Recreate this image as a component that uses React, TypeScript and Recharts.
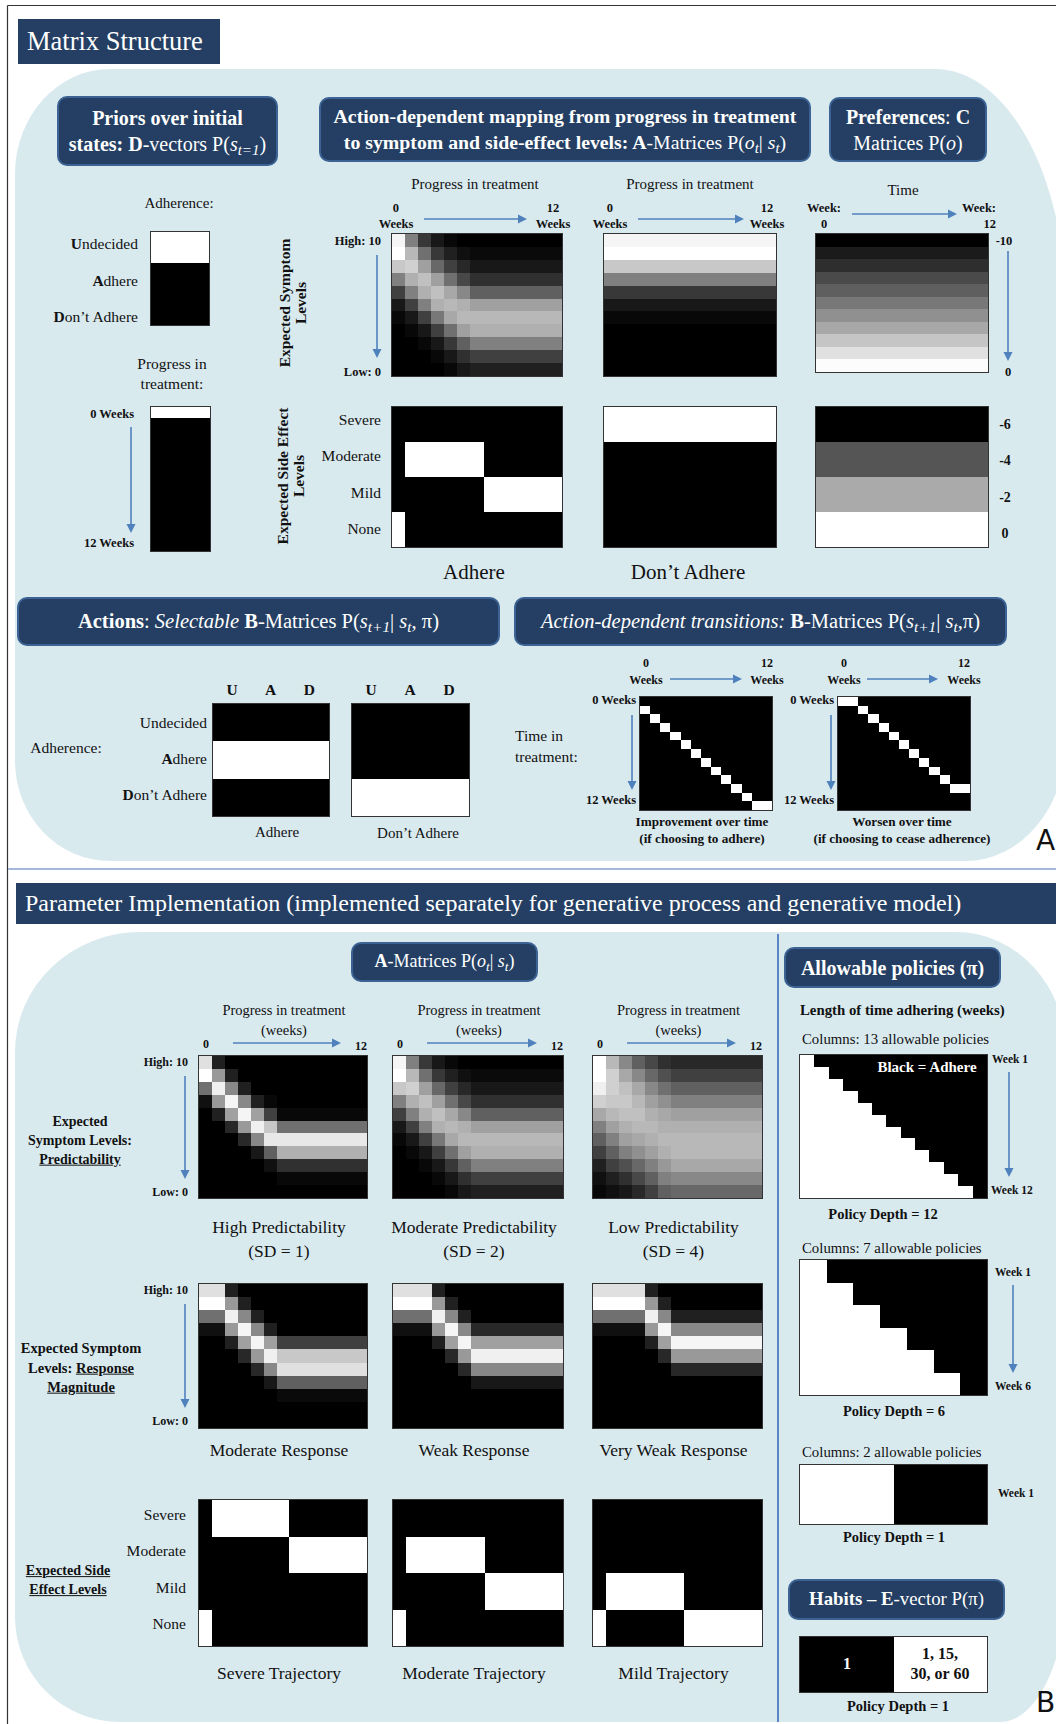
import React from 'react'
import { ScatterChart, Scatter, XAxis, YAxis } from 'recharts'

const SERIF = "'Liberation Serif', 'DejaVu Serif', serif"
const NAVY = '#243f63'
const NAVY_EDGE = '#3c6394'
const PALE = '#d9eaef'
const ARROW = '#4f81bd'

// 13 columns = weeks 0..12
const WEEKS = ['0', '1', '2', '3', '4', '5', '6', '7', '8', '9', '10', '11', '12']

// grey levels (hex), rows = symptom level 10 (top) .. 0 (bottom)
const MOD_PRED = [
  'f5 80 38 18 08 00 00 00 00 00 00 00 00',
  'ff b8 70 38 20 10 0a 0a 0a 0a 0a 0a 0a',
  'c8 d0 a0 68 40 28 18 18 18 18 18 18 18',
  '80 b0 c0 a0 70 48 30 30 30 30 30 30 30',
  '40 80 b0 c0 a8 88 60 60 60 60 60 60 60',
  '18 40 80 b0 b8 b0 a0 a0 a0 a0 a0 a0 a0',
  '08 18 40 78 a8 b8 b8 b8 b8 b8 b8 b8 b8',
  '00 08 18 40 70 a0 b0 b0 b0 b0 b0 b0 b0',
  '00 00 08 18 38 60 80 80 80 80 80 80 80',
  '00 00 00 08 18 30 40 40 40 40 40 40 40',
  '00 00 00 00 08 18 20 20 20 20 20 20 20',
]
const HIGH_PRED = [
  'e0 20 00 00 00 00 00 00 00 00 00 00 00',
  'ff 99 20 00 00 00 00 00 00 00 00 00 00',
  '70 f0 88 20 00 00 00 00 00 00 00 00 00',
  '10 99 f5 88 20 08 00 00 00 00 00 00 00',
  '00 20 a0 f5 a0 40 08 08 08 08 08 08 08',
  '00 00 28 99 f0 c8 70 70 70 70 70 70 70',
  '00 00 00 28 88 e8 e8 e8 e8 e8 e8 e8 e8',
  '00 00 00 00 18 60 b0 b0 b0 b0 b0 b0 b0',
  '00 00 00 00 00 10 30 30 30 30 30 30 30',
  '00 00 00 00 00 00 08 08 08 08 08 08 08',
  '00 00 00 00 00 00 00 00 00 00 00 00 00',
]
const LOW_PRED = [
  'ff b8 88 60 48 30 28 28 28 28 28 28 28',
  'ff d0 a8 88 68 50 40 40 40 40 40 40 40',
  'f0 d0 c0 a8 88 70 60 60 60 60 60 60 60',
  'd0 c8 c8 b8 a0 90 80 80 80 80 80 80 80',
  'a8 b8 c0 c0 b0 a8 a0 a0 a0 a0 a0 a0 a0',
  '80 a0 b0 b8 b8 b0 b0 b0 b0 b0 b0 b0 b0',
  '60 80 a0 a8 b0 b8 b8 b8 b8 b8 b8 b8 b8',
  '40 60 80 90 a0 b0 b8 b8 b8 b8 b8 b8 b8',
  '20 40 50 68 80 98 a8 a8 a8 a8 a8 a8 a8',
  '10 20 30 48 60 80 88 88 88 88 88 88 88',
  '08 10 18 28 40 60 68 68 68 68 68 68 68',
]
const MOD_RESP = [
  'e0 e0 20 00 00 00 00 00 00 00 00 00 00',
  'ff ff 99 20 00 00 00 00 00 00 00 00 00',
  '70 70 f0 88 20 00 00 00 00 00 00 00 00',
  '10 10 99 f5 88 20 00 00 00 00 00 00 00',
  '00 00 20 a0 f5 a0 40 40 40 40 40 40 40',
  '00 00 00 28 99 f0 c8 c8 c8 c8 c8 c8 c8',
  '00 00 00 00 28 88 e0 e0 e0 e0 e0 e0 e0',
  '00 00 00 00 00 18 60 60 60 60 60 60 60',
  '00 00 00 00 00 00 0a 0a 0a 0a 0a 0a 0a',
  '00 00 00 00 00 00 00 00 00 00 00 00 00',
  '00 00 00 00 00 00 00 00 00 00 00 00 00',
]
const WEAK_RESP = [
  'e0 e0 e0 20 00 00 00 00 00 00 00 00 00',
  'ff ff ff 99 20 00 00 00 00 00 00 00 00',
  '70 70 70 f0 88 20 00 00 00 00 00 00 00',
  '10 10 10 99 f5 88 28 28 28 28 28 28 28',
  '00 00 00 20 a0 f5 a0 a0 a0 a0 a0 a0 a0',
  '00 00 00 00 28 99 f0 f0 f0 f0 f0 f0 f0',
  '00 00 00 00 00 28 88 88 88 88 88 88 88',
  '00 00 00 00 00 00 18 18 18 18 18 18 18',
  '00 00 00 00 00 00 00 00 00 00 00 00 00',
  '00 00 00 00 00 00 00 00 00 00 00 00 00',
  '00 00 00 00 00 00 00 00 00 00 00 00 00',
]
const VWEAK_RESP = [
  'e0 e0 e0 e0 20 00 00 00 00 00 00 00 00',
  'ff ff ff ff 99 20 00 00 00 00 00 00 00',
  '70 70 70 70 f0 88 20 20 20 20 20 20 20',
  '10 10 10 10 99 f5 88 88 88 88 88 88 88',
  '00 00 00 00 20 a0 f5 f5 f5 f5 f5 f5 f5',
  '00 00 00 00 00 28 99 99 99 99 99 99 99',
  '00 00 00 00 00 00 28 28 28 28 28 28 28',
  '00 00 00 00 00 00 00 00 00 00 00 00 00',
  '00 00 00 00 00 00 00 00 00 00 00 00 00',
  '00 00 00 00 00 00 00 00 00 00 00 00 00',
  '00 00 00 00 00 00 00 00 00 00 00 00 00',
]

// same level every week
const DONT_SYMPTOM = ['f5', 'ff', 'c8', '80', '38', '18', '08', '00', '00', '00', '00']
const PREF_SYMPTOM = ['00', '1b', '2e', '4a', '5f', '78', '90', 'a8', 'c5', 'e0', 'fc']
const PREF_SIDE = ['00', '55', 'aa', 'ff']
const PREF_SIDE_TICKS = ['-6', '-4', '-2', '0']
const SIDE_LEVELS = ['Severe', 'Moderate', 'Mild', 'None']

// side effects: 1 = white, rows Severe / Moderate / Mild / None
const SIDE_SEVERE = [
  '0 1 1 1 1 1 1 0 0 0 0 0 0',
  '0 0 0 0 0 0 0 1 1 1 1 1 1',
  '0 0 0 0 0 0 0 0 0 0 0 0 0',
  '1 0 0 0 0 0 0 0 0 0 0 0 0',
]
const SIDE_MODERATE = [
  '0 0 0 0 0 0 0 0 0 0 0 0 0',
  '0 1 1 1 1 1 1 0 0 0 0 0 0',
  '0 0 0 0 0 0 0 1 1 1 1 1 1',
  '1 0 0 0 0 0 0 0 0 0 0 0 0',
]
const SIDE_MILD = [
  '0 0 0 0 0 0 0 0 0 0 0 0 0',
  '0 0 0 0 0 0 0 0 0 0 0 0 0',
  '0 1 1 1 1 1 1 0 0 0 0 0 0',
  '1 0 0 0 0 0 0 1 1 1 1 1 1',
]
const SIDE_DONT = [
  '1 1 1 1 1 1 1 1 1 1 1 1 1',
  '0 0 0 0 0 0 0 0 0 0 0 0 0',
  '0 0 0 0 0 0 0 0 0 0 0 0 0',
  '0 0 0 0 0 0 0 0 0 0 0 0 0',
]

const ADHERENCE = ['Undecided', 'Adhere', 'Don\u2019t Adhere']
const D_ADHERENCE = ['1', '0', '0']
const D_PROGRESS = ['1', '0', '0', '0', '0', '0', '0', '0', '0', '0', '0', '0', '0']
const B_ADHERE = ['0 0 0', '1 1 1', '0 0 0']
const B_DONT = ['0 0 0', '0 0 0', '1 1 1']
const UAD = ['U', 'A', 'D']

// white column(s) per row of the 13x13 transition matrices
const IMPROVE_WHITE = [[], [0], [1], [2], [3], [4], [5], [6], [7], [8], [9], [10], [11, 12]]
const WORSEN_WHITE = [[0, 1], [2], [3], [4], [5], [6], [7], [8], [9], [10], [11, 12], [], []]

// policies: number of white (non-adhering) columns per week row
const POLICY12_WHITE = [1, 2, 3, 4, 5, 6, 7, 8, 9, 10, 11, 12]
const POLICY6_WHITE = [1, 2, 3, 4, 5, 6]
const POLICY1 = ['1 0']
const E_VECTOR = ['0 1']

const hexRows = (rows: string[]) => rows.map(r => r.split(' ').map(h => parseInt(h, 16)))
const binRows = (rows: string[]) => rows.map(r => r.split(' ').map(v => (v === '1' ? 255 : 0)))
const everyWeek = (levels: string[]) => levels.map(h => WEEKS.map(() => parseInt(h, 16)))
const whiteCols = (rows: number[][], cols: number) => rows.map(r => Array.from({ length: cols }, (_, c) => (r.includes(c) ? 255 : 0)))
const whiteCount = (counts: number[], cols: number) => counts.map(n => Array.from({ length: cols }, (_, c) => (c < n ? 255 : 0)))

type Cell = { x: number; y: number; fill: string }

function toCells(grid: number[][]): Cell[] {
  const cells: Cell[] = []
  grid.forEach((row, r) => row.forEach((v, c) => cells.push({ x: c + 0.5, y: r + 0.5, fill: `rgb(${v},${v},${v})` })))
  return cells
}

function Heatmap({ x, y, w, h, grid }: { x: number; y: number; w: number; h: number; grid: number[][] }) {
  const rows = grid.length
  const cols = grid[0].length
  const cw = w / cols
  const ch = h / rows
  return (
    <div style={{ position: 'absolute', left: x, top: y, width: w, height: h, outline: '1px solid #333' }}>
      <ScatterChart width={w} height={h} margin={{ top: 0, right: 0, bottom: 0, left: 0 }}>
        <XAxis type="number" dataKey="x" domain={[0, cols]} allowDataOverflow hide />
        <YAxis type="number" dataKey="y" domain={[0, rows]} allowDataOverflow reversed hide />
        <Scatter data={toCells(grid)} isAnimationActive={false}
          shape={(p: any) => (
            <rect x={p.cx - cw / 2} y={p.cy - ch / 2} width={cw + 1} height={ch + 1}
              fill={p.payload.fill} shapeRendering="crispEdges" />
          )} />
      </ScatterChart>
    </div>
  )
}

function T({ x, y, s = 15, b, it, a = 'middle', c = '#111', u, lh = 1.15, children }: any) {
  const tx = a === 'middle' ? '-50%' : a === 'end' ? '-100%' : '0'
  return (
    <div style={{
      position: 'absolute', left: x, top: y, transform: `translate(${tx},-50%)`, fontSize: s,
      fontWeight: b ? 700 : 400, fontStyle: it ? 'italic' : 'normal', color: c, whiteSpace: 'nowrap',
      lineHeight: lh, fontFamily: SERIF, textDecoration: u ? 'underline' : 'none',
      textAlign: a === 'middle' ? 'center' : a === 'end' ? 'right' : 'left',
    }}>{children}</div>
  )
}

function VText({ x, y, s = 15.5, children }: any) {
  return (
    <div style={{
      position: 'absolute', left: x, top: y, transform: 'translate(-50%,-50%) rotate(-90deg)', fontSize: s,
      fontWeight: 700, fontFamily: SERIF, whiteSpace: 'nowrap', lineHeight: 1.05, textAlign: 'center', color: '#111',
    }}>{children}</div>
  )
}

function NavyBox({ x, y, w, h, s = 18, square, children }: any) {
  return (
    <div style={{
      position: 'absolute', left: x, top: y, width: w, height: h, boxSizing: 'border-box', background: NAVY,
      border: square ? 'none' : `2.5px solid ${NAVY_EDGE}`, borderRadius: square ? 0 : 10, color: '#fff',
      display: 'flex', flexDirection: 'column', alignItems: square ? 'flex-start' : 'center', justifyContent: 'center',
      fontFamily: SERIF, fontSize: s, lineHeight: 1.3, textAlign: 'center', whiteSpace: 'nowrap',
      paddingLeft: square ? 9 : 0,
    }}>{children}</div>
  )
}

const Sub = ({ children }: any) => (
  <span style={{ fontSize: '0.75em', fontStyle: 'italic', position: 'relative', top: '0.28em' }}>{children}</span>
)

function Arrow({ x1, y1, x2, y2 }: { x1: number; y1: number; x2: number; y2: number }) {
  const dx = x2 - x1, dy = y2 - y1
  const len = Math.hypot(dx, dy)
  const ux = dx / len, uy = dy / len
  const hl = 9, hw = 4.5
  const bx = x2 - ux * hl, by = y2 - uy * hl
  return (
    <g>
      <line x1={x1} y1={y1} x2={bx} y2={by} stroke={ARROW} strokeWidth={1.6} />
      <polygon points={`${x2},${y2} ${bx - uy * hw},${by + ux * hw} ${bx + uy * hw},${by - ux * hw}`} fill={ARROW} />
    </g>
  )
}

// columns of the lower panel
const COLS_B = [
  { x: 199, w: 168 },
  { x: 393, w: 170 },
  { x: 593, w: 169 },
]
const PRED_GRIDS = [HIGH_PRED, MOD_PRED, LOW_PRED]
const PRED_NAMES = ['High Predictability', 'Moderate Predictability', 'Low Predictability']
const PRED_SD = ['(SD = 1)', '(SD = 2)', '(SD = 4)']
const RESP_GRIDS = [MOD_RESP, WEAK_RESP, VWEAK_RESP]
const RESP_NAMES = ['Moderate Response', 'Weak Response', 'Very Weak Response']
const SIDE_GRIDS = [SIDE_SEVERE, SIDE_MODERATE, SIDE_MILD]
const SIDE_NAMES = ['Severe Trajectory', 'Moderate Trajectory', 'Mild Trajectory']

export default function App() {
  return (
    <div style={{ position: 'absolute', left: 0, top: 0, width: 1056, height: 1724, background: '#fff', overflow: 'hidden', fontFamily: SERIF }}>
      <svg width={1056} height={1724} style={{ position: 'absolute', left: 0, top: 0 }}>
        {/* panel backgrounds */}
        <path d="M15,174 A95,105 0 0 1 110,69 L935,69 A131,240 0 0 1 1066,309 L1066,741 A100,120 0 0 1 966,861 L110,861 A95,100 0 0 1 15,761 Z" fill={PALE} />
        <path d="M15,1052 A125,120 0 0 1 140,932 L956,932 A110,120 0 0 1 1066,1052 L1066,1587 A66,135 0 0 1 1000,1722 L120,1722 A105,105 0 0 1 15,1617 Z" fill={PALE} />
        {/* frame */}
        <line x1={7.5} y1={5.5} x2={1056} y2={5.5} stroke="#333" strokeWidth={1.2} />
        <line x1={7.5} y1={5.5} x2={7.5} y2={1724} stroke="#333" strokeWidth={1.2} />
        <line x1={8} y1={869} x2={1056} y2={869} stroke="#a3b8da" strokeWidth={2} />
        <line x1={778} y1={934} x2={778} y2={1722} stroke="#5b87c7" strokeWidth={2} />
        {/* arrows, upper panel */}
        <Arrow x1={131} y1={427} x2={131} y2={533} />
        <Arrow x1={424} y1={219} x2={527} y2={219} />
        <Arrow x1={638} y1={219} x2={744} y2={219} />
        <Arrow x1={852} y1={214} x2={957} y2={214} />
        <Arrow x1={377} y1={255} x2={377} y2={358} />
        <Arrow x1={1008} y1={251} x2={1008} y2={361} />
        <Arrow x1={670} y1={679} x2={742} y2={679} />
        <Arrow x1={867} y1={679} x2={938} y2={679} />
        <Arrow x1={632} y1={715} x2={632} y2={790} />
        <Arrow x1={831} y1={715} x2={831} y2={790} />
        {/* arrows, lower panel */}
        {COLS_B.map((c, i) => <Arrow key={i} x1={c.x + 34} y1={1043} x2={c.x + c.w - 26} y2={1043} />)}
        <Arrow x1={185} y1={1076} x2={185} y2={1179} />
        <Arrow x1={185} y1={1304} x2={185} y2={1408} />
        <Arrow x1={1009} y1={1072} x2={1009} y2={1177} />
        <Arrow x1={1013} y1={1285} x2={1013} y2={1373} />
      </svg>

      {/* ===== Panel A ===== */}
      <NavyBox x={18} y={19} w={202} h={45} s={26.5} square>Matrix Structure</NavyBox>

      <NavyBox x={57} y={96} w={221} h={70} s={20}>
        <b>Priors over initial</b>
        <span><b>states: D</b>-vectors P(<i>s</i><Sub>t=1</Sub>)</span>
      </NavyBox>
      <NavyBox x={319} y={97} w={492} h={65} s={19.8}>
        <b>Action-dependent mapping from progress in treatment</b>
        <span><b>to symptom and side-effect levels: A</b>-Matrices P(<i>o</i><Sub>t</Sub>| <i>s</i><Sub>t</Sub>)</span>
      </NavyBox>
      <NavyBox x={829} y={97} w={158} h={65} s={20}>
        <span><b>Preferences</b>: <b>C</b></span>
        <span>Matrices P(<i>o</i>)</span>
      </NavyBox>

      {/* D-vectors */}
      <T x={179} y={204}>Adherence:</T>
      {ADHERENCE.map((l, i) => (
        <T key={l} x={138} y={244 + i * 36.5} s={15.5} a="end"><b>{l[0]}</b>{l.slice(1)}</T>
      ))}
      <Heatmap x={151} y={232} w={58} h={93} grid={binRows(D_ADHERENCE)} />
      <T x={172} y={374} s={15.5} lh={1.3}>Progress in<br />treatment:</T>
      <T x={134} y={414} s={12.5} b a="end">0 Weeks</T>
      <T x={134} y={543} s={12.5} b a="end">12 Weeks</T>
      <Heatmap x={151} y={407} w={59} h={144} grid={binRows(D_PROGRESS)} />

      {/* A-matrices symptoms */}
      <T x={475} y={185} s={15}>Progress in treatment</T>
      <T x={690} y={185} s={15}>Progress in treatment</T>
      {[[396, 553], [610, 767]].map(([a0, a1], i) => (
        <React.Fragment key={i}>
          <T x={a0} y={216} s={12.5} b lh={1.3}>0<br />Weeks</T>
          <T x={a1} y={216} s={12.5} b lh={1.3}>12<br />Weeks</T>
        </React.Fragment>
      ))}
      <T x={381} y={241} s={12.5} b a="end">High: 10</T>
      <T x={381} y={372} s={12.5} b a="end">Low: 0</T>
      <VText x={293} y={303}>Expected Symptom<br />Levels</VText>
      <Heatmap x={392} y={234} w={170} h={142} grid={hexRows(MOD_PRED)} />
      <Heatmap x={604} y={234} w={172} h={142} grid={everyWeek(DONT_SYMPTOM)} />

      {/* preferences */}
      <T x={903} y={191} s={15}>Time</T>
      <T x={824} y={216} s={12.5} b lh={1.3}>Week:<br />0</T>
      <div style={{ position: 'absolute', left: 962, top: 216, transform: 'translate(0,-50%)', fontFamily: SERIF, fontSize: 12.5, fontWeight: 700, lineHeight: 1.3, textAlign: 'right', color: '#111' }}>Week:<br />12</div>
      <Heatmap x={816} y={234} w={172} h={138} grid={everyWeek(PREF_SYMPTOM)} />
      <T x={1004} y={241} s={12.5} b>-10</T>
      <T x={1008} y={372} s={12.5} b>0</T>

      {/* side effects */}
      {SIDE_LEVELS.map((l, i) => <T key={l} x={381} y={420 + i * 36.3} s={15.5} a="end">{l}</T>)}
      <VText x={291} y={476}>Expected Side Effect<br />Levels</VText>
      <Heatmap x={392} y={407} w={170} h={140} grid={binRows(SIDE_MODERATE)} />
      <Heatmap x={604} y={407} w={172} h={140} grid={binRows(SIDE_DONT)} />
      <Heatmap x={816} y={407} w={172} h={140} grid={everyWeek(PREF_SIDE)} />
      {PREF_SIDE_TICKS.map((l, i) => <T key={i} x={1005} y={425 + i * 36.3} s={14} b>{l}</T>)}
      <T x={474} y={572} s={21}>Adhere</T>
      <T x={688} y={572} s={21}>Don’t Adhere</T>

      {/* B-matrices */}
      <NavyBox x={17} y={597} w={483} h={49} s={20.5}>
        <span><b>Actions</b>: <i>Selectable</i> <b>B</b>-Matrices P(<i>s</i><Sub>t+1</Sub>| <i>s</i><Sub>t</Sub>, π)</span>
      </NavyBox>
      <NavyBox x={514} y={597} w={493} h={49} s={20.5}>
        <span><i>Action-dependent transitions:</i> <b>B</b>-Matrices P(<i>s</i><Sub>t+1</Sub>| <i>s</i><Sub>t</Sub>,π)</span>
      </NavyBox>

      {UAD.map((l, i) => <T key={'a' + l} x={232 + i * 38.7} y={690} s={15.5} b>{l}</T>)}
      {UAD.map((l, i) => <T key={'d' + l} x={371 + i * 39} y={690} s={15.5} b>{l}</T>)}
      <T x={66} y={748} s={15.5}>Adherence:</T>
      {ADHERENCE.map((l, i) => (
        <T key={l} x={207} y={723 + i * 36} s={15.5} a="end">{i > 0 ? <><b>{l[0]}</b>{l.slice(1)}</> : l}</T>
      ))}
      <Heatmap x={213} y={704} w={116} h={112} grid={binRows(B_ADHERE)} />
      <Heatmap x={352} y={704} w={117} h={112} grid={binRows(B_DONT)} />
      <T x={277} y={833} s={15}>Adhere</T>
      <T x={418} y={834} s={15}>Don’t Adhere</T>

      <T x={515} y={747} s={15.5} a="start" lh={1.35}>Time in<br />treatment:</T>
      {[[646, 767], [844, 964]].map(([a0, a1], i) => (
        <React.Fragment key={i}>
          <T x={a0} y={672} s={12} b lh={1.4}>0<br />Weeks</T>
          <T x={a1} y={672} s={12} b lh={1.4}>12<br />Weeks</T>
        </React.Fragment>
      ))}
      {[636, 834].map(r => (
        <React.Fragment key={r}>
          <T x={r} y={700} s={12.5} b a="end">0 Weeks</T>
          <T x={r} y={800} s={12.5} b a="end">12 Weeks</T>
        </React.Fragment>
      ))}
      <Heatmap x={640} y={697} w={132} h={113} grid={whiteCols(IMPROVE_WHITE, 13)} />
      <Heatmap x={838} y={697} w={132} h={113} grid={whiteCols(WORSEN_WHITE, 13)} />
      <T x={702} y={830} s={13.2} b lh={1.3}>Improvement over time<br />(if choosing to adhere)</T>
      <T x={902} y={830} s={13.2} b lh={1.3}>Worsen over time<br />(if choosing to cease adherence)</T>
      <div style={{ position: 'absolute', left: 1036, top: 824, fontFamily: "'DejaVu Sans', sans-serif", fontSize: 28, color: '#111' }}>A</div>

      {/* ===== Panel B ===== */}
      <NavyBox x={16} y={883} w={1040} h={41} s={24} square>Parameter Implementation (implemented separately for generative process and generative model)</NavyBox>
      <NavyBox x={351} y={942} w={187} h={40}>
        <span><b>A</b>-Matrices P(<i>o</i><Sub>t</Sub>| <i>s</i><Sub>t</Sub>)</span>
      </NavyBox>

      {COLS_B.map((c, i) => (
        <React.Fragment key={i}>
          <T x={c.x + c.w / 2 + 1} y={1021} s={14.5} lh={1.35}>Progress in treatment<br />(weeks)</T>
          <T x={c.x + 7} y={1045} s={12} b>0</T>
          <T x={c.x + c.w - 6} y={1047} s={12} b>12</T>
          <Heatmap x={c.x} y={1056} w={c.w} h={142} grid={hexRows(PRED_GRIDS[i])} />
          <T x={c.x + c.w / 2 - 4} y={1240} s={17.5} lh={1.35}>{PRED_NAMES[i]}<br />{PRED_SD[i]}</T>
          <Heatmap x={c.x} y={1284} w={c.w} h={144} grid={hexRows(RESP_GRIDS[i])} />
          <T x={c.x + c.w / 2 - 4} y={1450} s={17.5}>{RESP_NAMES[i]}</T>
          <Heatmap x={c.x} y={1500} w={c.w} h={146} grid={binRows(SIDE_GRIDS[i])} />
          <T x={c.x + c.w / 2 - 4} y={1673} s={17.5}>{SIDE_NAMES[i]}</T>
        </React.Fragment>
      ))}
      <T x={188} y={1063} s={12} b a="end">High: 10</T>
      <T x={188} y={1193} s={12} b a="end">Low: 0</T>
      <T x={80} y={1141} s={14} b lh={1.35}>Expected<br />Symptom Levels:<br /><u>Predictability</u></T>
      <T x={188} y={1291} s={12} b a="end">High: 10</T>
      <T x={188} y={1422} s={12} b a="end">Low: 0</T>
      <T x={81} y={1368} s={14.5} b lh={1.35}>Expected Symptom<br />Levels: <u>Response</u><br /><u>Magnitude</u></T>
      {SIDE_LEVELS.map((l, i) => <T key={l} x={186} y={1515 + i * 36.3} s={15.5} a="end">{l}</T>)}
      <T x={68} y={1581} s={14} b lh={1.35}><u>Expected Side</u><br /><u>Effect  Levels</u></T>

      {/* policies */}
      <NavyBox x={784} y={947} w={217} h={41} s={20}>
        <b>Allowable policies (π)</b>
      </NavyBox>
      <T x={800} y={1011} s={14.8} b a="start">Length of time adhering (weeks)</T>
      <T x={802} y={1040} s={14.8} a="start">Columns: 13 allowable policies</T>
      <Heatmap x={800} y={1055} w={187} h={143} grid={whiteCount(POLICY12_WHITE, 13)} />
      <T x={927} y={1068} s={15} b c="#fff">Black = Adhere</T>
      <T x={992} y={1060} s={11.5} b a="start">Week 1</T>
      <T x={991} y={1191} s={11.5} b a="start">Week 12</T>
      <T x={883} y={1214} s={14.5} b>Policy Depth = 12</T>

      <T x={802} y={1249} s={14.8} a="start">Columns: 7 allowable policies</T>
      <Heatmap x={800} y={1260} w={187} h={135} grid={whiteCount(POLICY6_WHITE, 7)} />
      <T x={995} y={1273} s={11.5} b a="start">Week 1</T>
      <T x={995} y={1387} s={11.5} b a="start">Week 6</T>
      <T x={894} y={1411} s={14.5} b>Policy Depth = 6</T>

      <T x={802} y={1453} s={14.8} a="start">Columns: 2 allowable policies</T>
      <Heatmap x={800} y={1465} w={187} h={59} grid={binRows(POLICY1)} />
      <T x={998} y={1494} s={11.5} b a="start">Week 1</T>
      <T x={894} y={1537} s={14.5} b>Policy Depth = 1</T>

      <NavyBox x={788} y={1579} w={217} h={41} s={18.8}>
        <span><b>Habits – E</b>-vector P(π)</span>
      </NavyBox>
      <Heatmap x={800} y={1637} w={187} h={55} grid={binRows(E_VECTOR)} />
      <T x={847} y={1664} s={16} b c="#fff">1</T>
      <T x={940} y={1664} s={16} b lh={1.25}>1, 15,<br />30, or 60</T>
      <T x={898} y={1706} s={14.5} b>Policy Depth = 1</T>
      <div style={{ position: 'absolute', left: 1036, top: 1686, fontFamily: "'DejaVu Sans', sans-serif", fontSize: 28, color: '#111' }}>B</div>
    </div>
  )
}
